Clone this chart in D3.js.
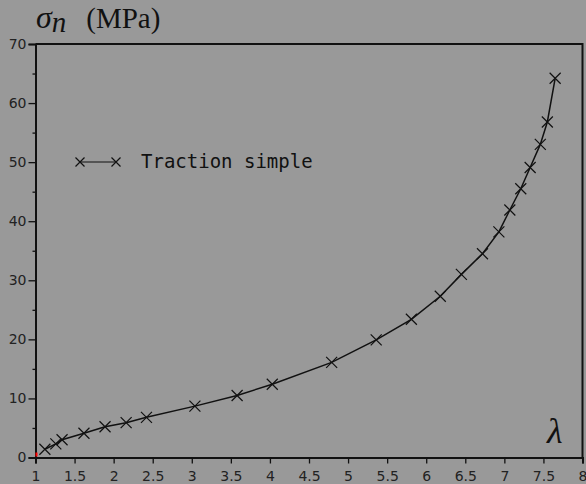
<!DOCTYPE html>
<html lang="en">
<head>
<meta charset="UTF-8">
<title>Traction simple</title>
<script src="https://d3js.org/d3.v7.min.js"></script>
<style>
  html, body { margin: 0; padding: 0; background: #999999; }
  svg { display: block; }
</style>
</head>
<body>
<div id="chart"></div>
<script>
// data: stretch ratio lambda vs nominal stress (MPa)
var lambda = [1.12, 1.26, 1.34, 1.62, 1.89, 2.16, 2.42, 3.04, 3.58, 4.03,
              4.79, 5.36, 5.81, 6.18, 6.45, 6.72, 6.93, 7.07, 7.21, 7.33,
              7.46, 7.55, 7.65];
var sigma = [1.4, 2.3, 3.0, 4.1, 5.2, 5.9, 6.8, 8.7, 10.5, 12.4,
             16.1, 19.9, 23.4, 27.3, 31.0, 34.5, 38.2, 41.9, 45.5, 49.1,
             53.0, 56.8, 64.2];
var xTicks = [1, 1.5, 2, 2.5, 3, 3.5, 4, 4.5, 5, 5.5, 6, 6.5, 7, 7.5, 8];
var yTicks = [0, 10, 20, 30, 40, 50, 60, 70];
var yMinor = [5, 15, 25, 35, 45, 55, 65];
var seriesName = "Traction simple";

var W = 586, H = 484;

var svg = d3.select("#chart").append("svg")
    .attr("width", W)
    .attr("height", H);

svg.append("rect").attr("width", W).attr("height", H).attr("fill", "#999999");

var x = d3.scaleLinear().domain([1, 8]).range([35.5, 582.5]);
var y = d3.scaleLinear().domain([0, 70]).range([457.5, 44]);

// frame (top and right, no ticks)
svg.append("path")
    .attr("d", "M" + x(1) + "," + y(70) + "H" + x(8) + "V" + y(0))
    .attr("fill", "none")
    .attr("stroke", "#111")
    .attr("stroke-width", 2);

// x axis
svg.append("g")
    .attr("transform", "translate(0," + y(0) + ")")
    .call(d3.axisBottom(x).tickValues(xTicks).tickSize(6).tickPadding(8)
          .tickFormat(function(d) { return d3.format("")(d); }));

// y axis, major and minor ticks
svg.append("g")
    .attr("transform", "translate(" + x(1) + ",0)")
    .call(d3.axisLeft(y).tickValues(yTicks).tickSize(7).tickPadding(2));
svg.append("g")
    .attr("transform", "translate(" + x(1) + ",0)")
    .call(d3.axisLeft(y).tickValues(yMinor).tickSize(3).tickFormat(""))
    .select(".domain").remove();

svg.selectAll(".domain").attr("stroke", "#111").attr("stroke-width", 2);
svg.selectAll(".tick line").attr("stroke", "#111").attr("stroke-width", 1.3);
svg.selectAll(".tick text")
    .attr("fill", "#222")
    .style("font-family", "DejaVu Sans")
    .style("font-size", "14px");

// curve
svg.append("path")
    .datum(d3.zip(lambda, sigma))
    .attr("fill", "none")
    .attr("stroke", "#111")
    .attr("stroke-width", 1.5)
    .attr("d", d3.line().x(function(d) { return x(d[0]); }).y(function(d) { return y(d[1]); }));

// x markers
var cross = function(s) { return "M" + (-s) + "," + (-s) + "L" + s + "," + s + "M" + (-s) + "," + s + "L" + s + "," + (-s); };
svg.append("g").selectAll("path")
    .data(d3.zip(lambda, sigma))
    .enter().append("path")
    .attr("transform", function(d) { return "translate(" + x(d[0]) + "," + y(d[1]) + ")"; })
    .attr("d", cross(5.5))
    .attr("fill", "none")
    .attr("stroke", "#111")
    .attr("stroke-width", 1.2);

// little red mark at the origin
svg.append("rect")
    .attr("x", x(1))
    .attr("y", y(0) - 5)
    .attr("width", 2)
    .attr("height", 4)
    .attr("fill", "red");

// legend
var leg = svg.append("g").attr("transform", "translate(0,162)");
leg.append("line").attr("x1", 80).attr("x2", 116).attr("y1", 0).attr("y2", 0)
    .attr("stroke", "#111").attr("stroke-width", 1.2);
leg.selectAll(".m").data([80, 116]).enter().append("path")
    .attr("transform", function(d) { return "translate(" + d + ",0)"; })
    .attr("d", cross(4.5))
    .attr("fill", "none").attr("stroke", "#111").attr("stroke-width", 1.2);
leg.append("text")
    .attr("x", 141).attr("y", 6)
    .style("font-family", "DejaVu Sans Mono")
    .style("font-size", "19px")
    .attr("fill", "#111")
    .text(seriesName);

// axis titles (serif, math style)
var title = svg.append("text")
    .attr("x", 36).attr("y", 28)
    .style("font-family", "Liberation Serif")
    .attr("fill", "#111");
title.append("tspan").style("font-style", "italic").style("font-size", "32px").text("σ");
title.append("tspan").style("font-style", "italic").style("font-size", "29px").attr("dy", 4).text("n");
title.append("tspan").style("font-size", "29px").attr("dy", -4).attr("dx", 20).text("(MPa)");

svg.append("text")
    .attr("x", 547).attr("y", 443)
    .style("font-family", "Liberation Serif")
    .style("font-style", "italic")
    .style("font-size", "36px")
    .attr("fill", "#111")
    .text("λ");
</script>
</body>
</html>
